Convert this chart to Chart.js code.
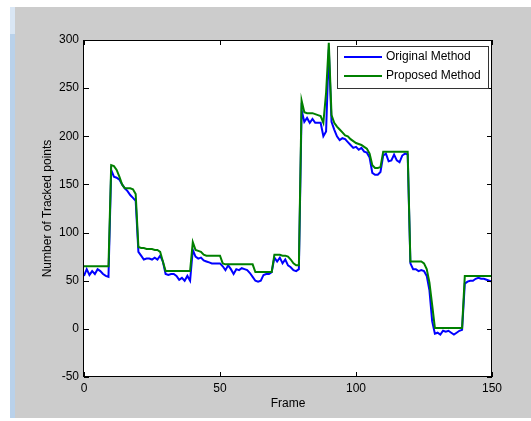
<!DOCTYPE html>
<html>
<head>
<meta charset="utf-8">
<script src="https://cdn.jsdelivr.net/npm/chart.js@4.4.1/dist/chart.umd.min.js"></script>
<style>
  html, body { margin: 0; padding: 0; background: #fff; }
  canvas { display: block; }
</style>
</head>
<body>
<canvas id="c" width="531" height="421"></canvas>
<script>
// ---- data ----
const frames = [
  0,1,2,3,4,5,6,7,8,9,10,11,12,13,14,15,16,17,18,19,
  20,21,22,23,24,25,26,27,28,29,30,31,32,33,34,35,36,37,38,39,
  40,41,42,43,44,45,46,47,48,49,50,51,52,53,54,55,56,57,58,59,
  60,61,62,63,64,65,66,67,68,69,70,71,72,73,74,75,76,77,78,79,
  80,81,82,83,84,85,86,87,88,89,90,91,92,93,94,95,96,97,98,99,
  100,101,102,103,104,105,106,107,108,109,110,111,112,113,114,115,116,117,118,119,
  120,121,122,123,124,125,126,127,128,129,130,131,132,133,134,135,136,137,138,139,
  140,141,142,143,144,145,146,147,148,149,150
];
const originalMethod = [
  55,62,56,60,57,62,60,57,55,54,
  165,158,157,155,150,146,143,139,136,133,
  80,76,72,73,73,72,74,72,76,70,
  57,56,57,57,55,51,53,50,55,50,
  82,75,73,74,71,70,69,68,68,68,
  68,65,61,66,62,57,62,61,63,62,
  61,58,54,50,49,50,56,57,57,59,
  74,70,74,68,72,66,64,61,60,62,
  227,215,219,214,218,214,214,214,200,205,
  290,215,207,200,196,198,197,194,191,188,
  189,186,188,184,183,178,162,160,160,163,
  180,182,174,175,181,175,173,180,182,181,
  68,62,62,60,61,60,55,40,8,-5,
  -4,-6,-2,-3,-2,-4,-6,-4,-2,-1,
  47,49,50,50,52,53,52,52,51,50,49
];
const proposedMethod = [
  65,65,65,65,65,65,65,65,65,65,
  170,169,165,158,150,146,146,146,145,140,
  85,84,84,83,83,83,82,82,80,70,
  60,60,60,60,60,60,60,60,60,60,
  90,82,81,80,77,76,76,76,76,76,
  76,68,67,67,67,67,67,67,67,67,
  67,67,67,59,59,59,59,59,59,59,
  77,77,77,76,76,75,72,68,66,66,
  237,225,224,224,224,223,222,221,214,245,
  297,222,214,210,207,204,201,200,197,195,
  193,192,191,189,187,182,170,167,167,168,
  184,184,184,184,184,184,184,184,184,184,
  70,70,70,70,70,68,62,48,25,1,
  1,1,1,1,1,1,1,1,1,1,
  55,55,55,55,55,55,55,55,55,55,55
];
const seriesNames = ['Original Method', 'Proposed Method'];
const seriesColors = ['#0000ff', '#008000'];
const xTicks = [0, 50, 100, 150];
const yTicks = [-50, 0, 50, 100, 150, 200, 250, 300];
const xTitle = 'Frame';
const yTitle = 'Number of Tracked points';

const FONT = '"Liberation Sans", Arial, sans-serif';

function pts(ys) { return ys.map((y, i) => ({ x: frames[i], y: y })); }

const decor = {
  id: 'decor',
  beforeDraw(chart) {
    const { ctx, chartArea: a, width, height } = chart;
    ctx.save();
    ctx.fillStyle = '#ffffff';
    ctx.fillRect(0, 0, width, height);
    ctx.fillStyle = '#cccccc';
    ctx.fillRect(15, 7, width - 15, 411);
    ctx.fillStyle = '#b9d1ea';
    ctx.fillRect(10, 7, 5, 411);
    ctx.fillStyle = '#d9e6f4';
    ctx.fillRect(10, 7, 5, 27);
    ctx.fillStyle = '#ffffff';
    ctx.fillRect(a.left, a.top, a.right - a.left, a.bottom - a.top);
    ctx.restore();
  },
  afterDatasetsDraw(chart) {
    const { ctx, chartArea: a, scales } = chart;
    ctx.save();
    ctx.strokeStyle = '#000';
    ctx.lineWidth = 1;
    // box
    ctx.strokeRect(Math.round(a.left) - 0.5, Math.round(a.top) + 0.5,
      Math.round(a.right - a.left), Math.round(a.bottom - a.top) - 1);
    // inside ticks
    const tl = 5;
    ctx.beginPath();
    xTicks.forEach(v => {
      const x = Math.round(scales.x.getPixelForValue(v)) + 0.5;
      ctx.moveTo(x, a.bottom); ctx.lineTo(x, a.bottom - tl);
      ctx.moveTo(x, a.top); ctx.lineTo(x, a.top + tl);
    });
    yTicks.forEach(v => {
      const y = Math.round(scales.y.getPixelForValue(v)) + 0.5;
      ctx.moveTo(a.left, y); ctx.lineTo(a.left + tl, y);
      ctx.moveTo(a.right, y); ctx.lineTo(a.right - tl, y);
    });
    ctx.stroke();

    // legend (inside, north-east)
    const lw = 151, lh = 42;
    const lx = Math.round(a.right - 4 - lw), ly = Math.round(a.top + 6);
    ctx.fillStyle = '#fff';
    ctx.fillRect(lx, ly, lw, lh);
    ctx.strokeStyle = '#333';
    ctx.strokeRect(lx + 0.5, ly + 0.5, lw, lh);
    ctx.font = '12px ' + FONT;
    ctx.textBaseline = 'middle';
    ctx.textAlign = 'left';
    chart.data.datasets.slice().sort((p, q) => p.legendIndex - q.legendIndex).forEach((ds, i) => {
      const yy = ly + 11 + i * 19;
      ctx.strokeStyle = ds.borderColor;
      ctx.lineWidth = 2;
      ctx.beginPath();
      ctx.moveTo(lx + 7, yy); ctx.lineTo(lx + 45, yy);
      ctx.stroke();
      ctx.fillStyle = '#000';
      ctx.fillText(ds.label, lx + 49, yy);
    });
    ctx.restore();
  }
};

new Chart(document.getElementById('c'), {
  type: 'line',
  data: {
    datasets: [
      { label: seriesNames[0], data: pts(originalMethod), borderColor: seriesColors[0],
        backgroundColor: seriesColors[0], borderWidth: 2, pointRadius: 0, tension: 0,
        order: 1, legendIndex: 0 },
      { label: seriesNames[1], data: pts(proposedMethod), borderColor: seriesColors[1],
        backgroundColor: seriesColors[1], borderWidth: 2, pointRadius: 0, tension: 0,
        order: 0, legendIndex: 1 }
    ]
  },
  options: {
    responsive: false,
    animation: false,
    devicePixelRatio: 1,
    layout: { padding: { left: 0, top: 40, right: 39, bottom: 0 } },
    plugins: { legend: { display: false }, tooltip: { enabled: false } },
    scales: {
      x: {
        type: 'linear', min: 0, max: 150,
        afterBuildTicks: s => { s.ticks = xTicks.map(v => ({ value: v })); },
        afterFit: s => { s.height = 44; },
        grid: { display: false, drawTicks: false },
        border: { display: false },
        ticks: { padding: 4, color: '#000', font: { family: FONT, size: 12 }, maxRotation: 0 },
        title: { display: true, text: xTitle, color: '#000',
                 font: { family: FONT, size: 12 }, padding: { top: 0, bottom: 10 } }
      },
      y: {
        type: 'linear', min: -50, max: 300,
        afterBuildTicks: s => { s.ticks = yTicks.map(v => ({ value: v })); },
        afterFit: s => { s.width = 84; },
        grid: { display: false, drawTicks: false },
        border: { display: false },
        ticks: { padding: 5, color: '#000', font: { family: FONT, size: 12 } },
        title: { display: true, text: yTitle, color: '#000',
                 font: { family: FONT, size: 12 }, padding: { top: 40, bottom: 0 } }
      }
    }
  },
  plugins: [decor]
});
</script>
</body>
</html>
